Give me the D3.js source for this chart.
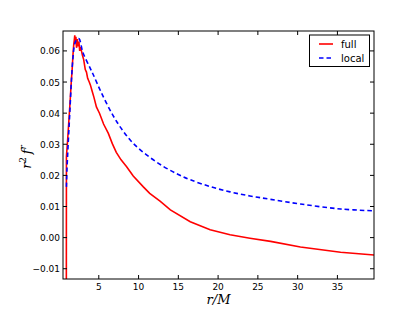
<!DOCTYPE html>
<html lang="en">
<head>
    <meta charset="UTF-8">
    <title>r^2 f^r</title>
    <script src="https://d3js.org/d3.v7.min.js"></script>
    <style>
        body { margin: 0; padding: 0; background: white; }
        svg { display: block; font-family: 'DejaVu Sans', sans-serif; }
        .tick-label { font-size: 9px; fill: black; }
        .math { font-family: 'DejaVu Serif', serif; font-style: italic; fill: black; }
    </style>
</head>
<body>
    <svg width="415" height="313"></svg>
    <script>
        // r/M values and r^2 f^r values
        const fullR = [0.92, 0.93, 1.1, 1.25, 1.4, 1.55, 1.65, 1.76, 1.85, 1.92, 1.98, 2.05, 2.12, 2.2, 2.3, 2.4, 2.5, 2.6, 2.7, 2.82, 2.95, 3.1, 3.3, 3.45, 3.6, 3.8, 3.95, 4.15, 4.4, 4.7, 5.1, 5.6, 6.2, 6.7, 7.2, 7.8, 8.5, 9.33, 10.6, 11.4, 12.7, 14.0, 16.5, 19, 21.5, 24, 26.6, 30.35, 35.4, 39.6];
        const fullV = [-0.02, 0.026, 0.032, 0.038, 0.044, 0.0505, 0.054, 0.059, 0.062, 0.0635, 0.065, 0.0625, 0.0645, 0.061, 0.0638, 0.0615, 0.063, 0.0600, 0.0612, 0.0600, 0.0585, 0.0572, 0.0540, 0.0532, 0.0512, 0.0500, 0.0490, 0.0472, 0.0450, 0.0420, 0.0399, 0.0365, 0.0335, 0.0302, 0.0274, 0.0250, 0.0228, 0.0198, 0.0163, 0.0142, 0.0117, 0.0089, 0.0051, 0.0025, 0.0009, -0.0002, -0.0012, -0.0030, -0.0047, -0.0056];
        const localR = [0.93, 1.0, 1.15, 1.35, 1.56, 1.76, 2.0, 2.3, 2.52, 3.0, 3.87, 4.28, 5.3, 6.8, 8.07, 9.33, 11.0, 13.1, 15, 16.5, 19, 21.5, 24, 26.6, 30.35, 35.4, 39.6];
        const localV = [0.0163, 0.022, 0.030, 0.0399, 0.0505, 0.058, 0.0625, 0.0638, 0.0639, 0.0595, 0.0547, 0.0525, 0.0467, 0.0392, 0.0342, 0.0303, 0.0266, 0.0229, 0.0203, 0.0186, 0.0164, 0.0147, 0.0134, 0.0123, 0.0108, 0.0092, 0.0086];
        const xTicks = [5, 10, 15, 20, 25, 30, 35];
        const yTicks = [-0.01, 0.00, 0.01, 0.02, 0.03, 0.04, 0.05, 0.06];
        const seriesNames = ["full", "local"];

        const svg = d3.select("svg");
        const pLeft = 63, pRight = 374, pTop = 31, pBottom = 279;

        const xScale = d3.scaleLinear().domain([0.5, 39.6]).range([pLeft, pRight]);
        const yScale = d3.scaleLinear().domain([-0.0133, 0.0664]).range([pBottom, pTop]);

        svg.append("clipPath").attr("id", "plot-clip")
           .append("rect")
           .attr("x", pLeft).attr("y", pTop)
           .attr("width", pRight - pLeft).attr("height", pBottom - pTop);

        const fullData = fullR.map(function(r, i) { return [r, fullV[i]]; });
        const localData = localR.map(function(r, i) { return [r, localV[i]]; });

        const plot = svg.append("g").attr("clip-path", "url(#plot-clip)");

        plot.append("path")
            .datum(fullData)
            .attr("d", d3.line()
                .x(function(d) { return xScale(d[0]); })
                .y(function(d) { return yScale(d[1]); }))
            .attr("fill", "none")
            .attr("stroke", "#ff0000")
            .attr("stroke-width", 1.6);

        plot.append("path")
            .datum(localData)
            .attr("d", d3.line()
                .x(function(d) { return xScale(d[0]); })
                .y(function(d) { return yScale(d[1]); })
                .curve(d3.curveCatmullRom))
            .attr("fill", "none")
            .attr("stroke", "#0000ff")
            .attr("stroke-width", 1.6)
            .attr("stroke-dasharray", "4.5,3");

        // frame
        svg.append("rect")
           .attr("x", pLeft).attr("y", pTop)
           .attr("width", pRight - pLeft).attr("height", pBottom - pTop)
           .attr("fill", "none")
           .attr("stroke", "black")
           .attr("stroke-width", 1);

        // ticks (inward, all sides)
        xTicks.forEach(function(t) {
            const x = xScale(t);
            svg.append("line").attr("x1", x).attr("x2", x).attr("y1", pBottom).attr("y2", pBottom - 4).attr("stroke", "black");
            svg.append("line").attr("x1", x).attr("x2", x).attr("y1", pTop).attr("y2", pTop + 4).attr("stroke", "black");
            svg.append("text")
               .attr("class", "tick-label")
               .attr("x", x).attr("y", pBottom + 11)
               .attr("text-anchor", "middle")
               .text(t);
        });

        yTicks.forEach(function(t) {
            const y = yScale(t);
            svg.append("line").attr("x1", pLeft).attr("x2", pLeft + 4).attr("y1", y).attr("y2", y).attr("stroke", "black");
            svg.append("line").attr("x1", pRight).attr("x2", pRight - 4).attr("y1", y).attr("y2", y).attr("stroke", "black");
            svg.append("text")
               .attr("class", "tick-label")
               .attr("x", pLeft - 3).attr("y", y + 3.5)
               .attr("text-anchor", "end")
               .text(d3.format(".2f")(t).replace("-", "\u2212"));
        });

        // axis labels
        svg.append("text")
           .attr("class", "math")
           .attr("x", (pLeft + pRight) / 2).attr("y", 304)
           .attr("text-anchor", "middle")
           .style("font-size", "13px")
           .text("r/M");

        const yl = svg.append("text")
           .attr("class", "math")
           .attr("transform", "translate(31,157) rotate(-90)")
           .attr("text-anchor", "middle")
           .style("font-size", "13px");
        yl.append("tspan").text("r");
        yl.append("tspan").attr("dy", -5).style("font-size", "9px").style("font-style", "normal").text("2");
        yl.append("tspan").attr("dy", 5).text("\u2009f");
        yl.append("tspan").attr("dy", -5).style("font-size", "9px").text("r");

        // legend
        const legend = svg.append("g");
        legend.append("rect")
              .attr("x", 309.5).attr("y", 35)
              .attr("width", 60).attr("height", 31.5)
              .attr("fill", "white")
              .attr("stroke", "black")
              .attr("stroke-width", 1);

        const legendStyles = [
            { color: "#ff0000", dash: null },
            { color: "#0000ff", dash: "4.5,3" }
        ];
        seriesNames.forEach(function(name, i) {
            const y = 44 + i * 14;
            legend.append("line")
                  .attr("x1", 319).attr("x2", 333)
                  .attr("y1", y).attr("y2", y)
                  .attr("stroke", legendStyles[i].color)
                  .attr("stroke-width", 1.6)
                  .attr("stroke-dasharray", legendStyles[i].dash);
            legend.append("text")
                  .attr("x", 341).attr("y", y + 3.5)
                  .style("font-size", "10px")
                  .text(name);
        });
    </script>
</body>
</html>
